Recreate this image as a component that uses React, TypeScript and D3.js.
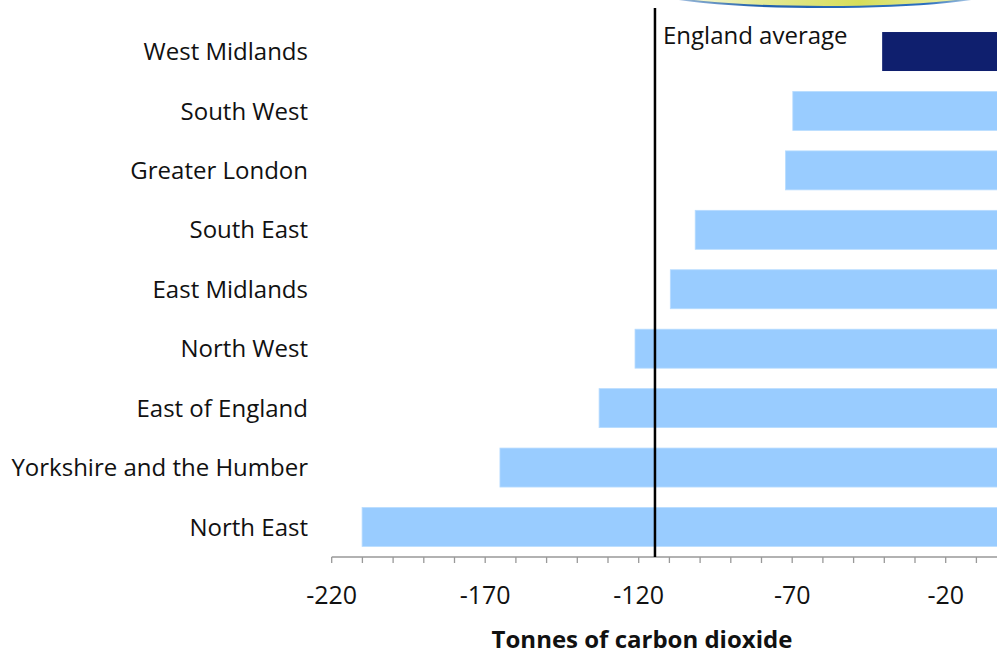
import React from "react";
import * as d3 from "d3";

// Regions, top to bottom, with change in emissions (tonnes of CO2)
const regions = [
  "West Midlands",
  "South West",
  "Greater London",
  "South East",
  "East Midlands",
  "North West",
  "East of England",
  "Yorkshire and the Humber",
  "North East",
];
const values = [-40.7, -69.8, -72.2, -101.6, -109.7, -121.2, -132.9, -165.2, -210.1];
const highlighted = ["West Midlands"];
const englandAverage = -114.7;
const tickLabels = [-220, -170, -120, -70, -20];
const minorTicks = d3.range(-220, 1, 10);

const W = 997;
const H = 654;
const FONT = "'Open Sans', 'Noto Sans', sans-serif";

export default function App() {
  const x = d3.scaleLinear().domain([-220, 0]).range([331.7, 1007.1]);
  const y = d3
    .scaleBand<string>()
    .domain(regions)
    .range([21.8, 556.7])
    .paddingInner(0.344)
    .paddingOuter(0.172);
  const axisY = 557;
  const avgX = x(englandAverage);

  return (
    <svg
      width={W}
      height={H}
      viewBox={`0 0 ${W} ${H}`}
      style={{ position: "absolute", left: 0, top: 0, background: "#fff" }}
    >
      <defs>
        <linearGradient id="swooshFill" x1="0" x2="1" y1="0" y2="0">
          <stop offset="0" stopColor="#ffffff" />
          <stop offset="0.3" stopColor="#e4ea9a" />
          <stop offset="0.6" stopColor="#d6de5a" />
          <stop offset="1" stopColor="#eef2c8" />
        </linearGradient>
        <linearGradient id="swooshStroke" x1="0" x2="1" y1="0" y2="0">
          <stop offset="0" stopColor="#3a78c0" stopOpacity="0.3" />
          <stop offset="0.3" stopColor="#1f5fae" />
          <stop offset="0.8" stopColor="#2b6fbf" />
          <stop offset="1" stopColor="#9cc3e8" stopOpacity="0.4" />
        </linearGradient>
        <clipPath id="topClip">
          <rect x={0} y={0} width={W} height={20} />
        </clipPath>
      </defs>

      {/* logo swoosh at the top edge */}
      <g clipPath="url(#topClip)">
        <ellipse cx={825} cy={-10} rx={172} ry={17} fill="url(#swooshFill)" stroke="url(#swooshStroke)" strokeWidth={2} />
      </g>

      {/* bars */}
      {regions.map((r, i) => (
        <rect
          key={r}
          x={x(values[i])}
          y={y(r)}
          width={x(0) - x(values[i])}
          height={y.bandwidth()}
          fill={highlighted.includes(r) ? "#0f1f6e" : "#99ccff"}
          stroke={highlighted.includes(r) ? "none" : "#b8dcff"}
          strokeWidth={0.8}
        />
      ))}

      {/* category labels */}
      {regions.map((r) => (
        <text
          key={r}
          x={308}
          y={(y(r) as number) + y.bandwidth() / 2}
          dy="0.36em"
          textAnchor="end"
          fontFamily={FONT}
          fontSize={24}
          fill="#111"
        >
          {r}
        </text>
      ))}

      {/* x axis */}
      <line x1={x(-220)} x2={W} y1={axisY} y2={axisY} stroke="#999" strokeWidth={1.3} />
      {minorTicks.map((t) => (
        <line key={t} x1={x(t)} x2={x(t)} y1={axisY} y2={axisY + 6} stroke="#999" strokeWidth={1.3} />
      ))}
      {tickLabels.map((t) => (
        <text
          key={t}
          x={x(t)}
          y={604}
          textAnchor="middle"
          fontFamily={FONT}
          fontSize={25}
          fill="#111"
        >
          {t}
        </text>
      ))}
      <text
        x={642}
        y={648}
        textAnchor="middle"
        fontFamily={FONT}
        fontSize={24}
        fontWeight="bold"
        fill="#111"
      >
        Tonnes of carbon dioxide
      </text>

      {/* England average reference line */}
      <line x1={avgX} x2={avgX} y1={8} y2={axisY} stroke="#000" strokeWidth={2.5} />
      <text x={663} y={44} fontFamily={FONT} fontSize={24} fill="#111">
        England average
      </text>
    </svg>
  );
}
